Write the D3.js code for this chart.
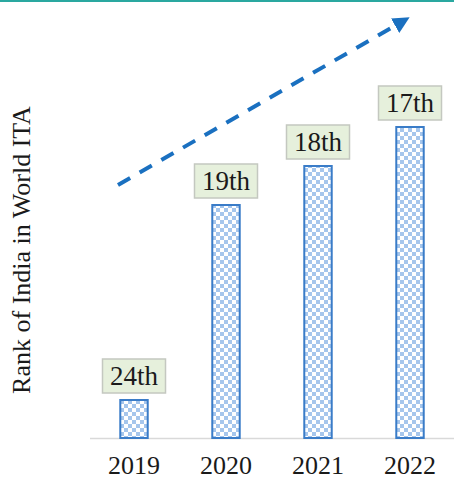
<!DOCTYPE html>
<html><head><meta charset="utf-8">
<script src="https://cdn.jsdelivr.net/npm/d3@7"></script>
<style>body{margin:0;background:#fff}svg{display:block}</style>
</head><body>
<svg id="c" width="454" height="479"></svg>
<script>
const years = ["2019", "2020", "2021", "2022"];
const ranks = [24, 19, 18, 17];
const rankLabels = ["24th", "19th", "18th", "17th"];
const yTitle = "Rank of India in World ITA";

const FONT = "'Liberation Serif', 'Times New Roman', serif";
const svg = d3.select("#c");
const W = 454, H = 479;
const base = 438;

svg.append("line").attr("x1",0).attr("x2",W).attr("y1",1).attr("y2",1)
  .attr("stroke","#2aa8a0").attr("stroke-width",2);

const defs = svg.append("defs");
const pat = defs.append("pattern").attr("id","chk").attr("patternUnits","userSpaceOnUse")
  .attr("width",8).attr("height",8);
pat.append("rect").attr("width",8).attr("height",8).attr("fill","#ffffff");
pat.append("rect").attr("width",4).attr("height",4).attr("fill","#a6c6ec");
pat.append("rect").attr("x",4).attr("y",4).attr("width",4).attr("height",4).attr("fill","#a6c6ec");
const mk = defs.append("marker").attr("id","arr").attr("viewBox","0 0 10 10")
  .attr("refX",2).attr("refY",5).attr("markerWidth",4.2).attr("markerHeight",4.2)
  .attr("orient","auto").attr("markerUnits","strokeWidth");
mk.append("path").attr("d","M0,0 L10,5 L0,10 Z").attr("fill","#1a70c0");

const x = d3.scaleBand().domain(years).range([88, 456]).paddingInner(0.68).paddingOuter(0.34);
const y = d3.scaleLinear().domain([25, 16]).range([base, base - 9*39]);

svg.append("line").attr("x1",90).attr("x2",454).attr("y1",base+0.5).attr("y2",base+0.5)
  .attr("stroke","#d9d9d9").attr("stroke-width",1.5);

svg.selectAll("rect.bar").data(ranks).join("rect").attr("class","bar")
  .attr("x",(d,i)=>x(years[i])+1).attr("y",d=>y(d)+1)
  .attr("width",x.bandwidth()-2).attr("height",d=>base-y(d)-1)
  .attr("fill","url(#chk)").attr("stroke","#3a7cc8").attr("stroke-width",2);

const bw = 63, bh = 34;
const g = svg.selectAll("g.lab").data(ranks).join("g").attr("class","lab")
  .attr("transform",(d,i)=>`translate(${x(years[i])+x.bandwidth()/2},${y(d)-6})`);
g.append("rect").attr("x",-bw/2).attr("y",-bh).attr("width",bw).attr("height",bh)
  .attr("fill","#e6f0dc").attr("stroke","#c4c8c0").attr("stroke-width",1.5);
g.append("text").attr("y",-bh/2).attr("dy","0.35em").attr("text-anchor","middle")
  .style("font-family",FONT).attr("font-size",27)
  .attr("fill","#1a1a1a").text((d,i)=>rankLabels[i]);

const xa = d3.axisBottom(x).tickSize(0).tickPadding(18);
const ax = svg.append("g").attr("transform",`translate(0,${base})`).call(xa);
ax.select(".domain").remove();
ax.selectAll("text").style("font-family",FONT)
  .attr("font-size",26).attr("fill","#1a1a1a");

svg.append("text").attr("transform","translate(30,250) rotate(-90)")
  .attr("text-anchor","middle").style("font-family",FONT)
  .attr("font-size",26).attr("fill","#1a1a1a").text(yTitle);

svg.append("line").attr("x1",118).attr("y1",185).attr("x2",398).attr("y2",24)
  .attr("stroke","#1a70c0").attr("stroke-width",4).attr("stroke-dasharray","14,11")
  .attr("marker-end","url(#arr)");
</script>
</body></html>
